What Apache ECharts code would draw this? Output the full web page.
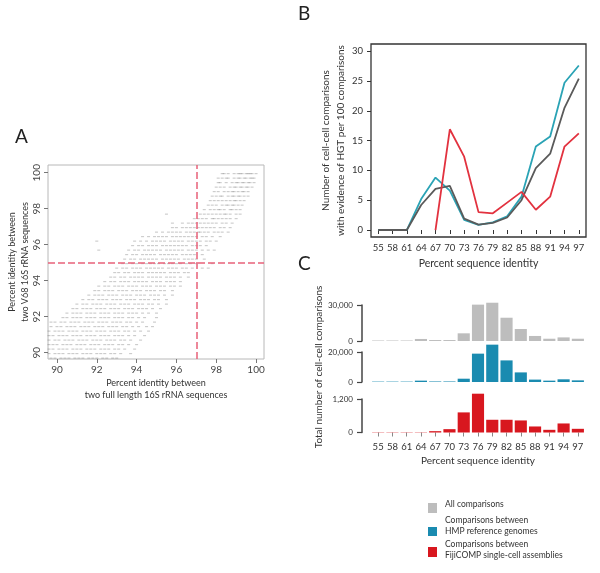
<!DOCTYPE html>
<html><head><meta charset="utf-8">
<script src="https://cdn.jsdelivr.net/npm/echarts@6/dist/echarts.min.js"></script>
<style>html,body{margin:0;padding:0;background:#fff}#c{width:600px;height:573px}</style>
</head><body><div id="c"></div>
<script>
// ---------- Panel A data: rows of [y, [x values]] ----------
const scatterRows = [
 [99.95,[98.3,98.4,98.6,98.9,99.1,99.2,99.3,99.5,99.6,99.7,99.8,100.0]],
 [99.7,[98.1,98.3,98.5,98.6,98.9,99.1,99.2,99.4,99.5,99.7,99.8,99.9]],
 [99.45,[98.1,98.2,98.5,98.8,99.0,99.1,99.3,99.4,99.6,99.7,99.9]],
 [99.2,[98.0,98.2,98.4,98.7,98.9,99.0,99.2,99.3,99.5,99.6,99.8]],
 [98.95,[97.9,98.1,98.4,98.6,98.8,98.9,99.1,99.3,99.4,99.6]],
 [98.7,[97.8,98.0,98.2,98.3,98.6,98.8,98.9,99.1,99.2,99.4,99.6]],
 [98.45,[97.7,97.9,98.1,98.3,98.5,98.7,98.9,99.0,99.2,99.4]],
 [98.2,[97.6,97.8,98.0,98.3,98.5,98.6,98.8,98.9,99.1,99.3]],
 [97.95,[97.4,97.7,97.9,98.1,98.2,98.4,98.7,98.8,99.0,99.2]],
 [97.7,[95.5,97.2,97.4,97.6,97.8,98.0,98.2,98.4,98.5,98.7,99.0,99.2]],
 [97.45,[96.9,97.1,97.3,97.5,97.8,97.9,98.1,98.3,98.5,98.7,99.0]],
 [97.2,[95.8,96.3,96.6,96.8,97.0,97.2,97.4,97.6,97.8,98.0,98.3,98.5,98.8]],
 [96.95,[95.8,96.0,96.3,96.5,96.7,96.9,97.1,97.3,97.5,97.7,97.9,98.2,98.4,98.7]],
 [96.7,[95.0,95.3,95.6,95.8,96.0,96.2,96.5,96.7,96.9,97.1,97.2,97.4,97.6,97.9,98.1,98.3,98.6]],
 [96.45,[94.3,94.6,94.9,95.1,95.3,95.5,95.8,96.0,96.2,96.4,96.6,96.8,97.0,97.3,97.5,97.8,98.2]],
 [96.2,[92.0,93.9,94.2,94.5,94.8,95.0,95.2,95.4,95.7,95.9,96.1,96.3,96.6,96.8,97.0,97.2,97.5,97.7,98.0]],
 [95.95,[93.8,94.1,94.3,94.6,94.8,95.0,95.3,95.5,95.7,95.9,96.1,96.3,96.5,96.8,97.0,97.2,97.5]],
 [95.7,[92.1,93.6,93.9,94.1,94.4,94.6,94.8,95.0,95.2,95.5,95.7,95.9,96.1,96.3,96.6,96.8,97.0,97.3,97.6,97.9]],
 [95.45,[93.5,93.8,94.0,94.3,94.5,94.7,94.9,95.2,95.4,95.6,95.8,96.0,96.3,96.5,96.7,96.9,97.3]],
 [95.2,[93.4,93.7,93.9,94.2,94.4,94.6,94.8,95.0,95.3,95.5,95.7,95.9,96.1,96.4,96.6,96.8,97.0,97.4]],
 [94.95,[93.3,93.5,93.8,94.0,94.3,94.5,94.7,94.9,95.1,95.4,95.6,95.8,96.0,96.2,96.5,96.7,97.0,97.8]],
 [94.7,[93.0,93.3,93.5,93.8,94.0,94.2,94.5,94.7,94.9,95.1,95.3,95.6,95.8,96.0,96.3,96.5,96.8,97.3,97.6]],
 [94.45,[92.9,93.1,93.4,93.6,93.9,94.1,94.3,94.6,94.8,95.0,95.2,95.4,95.7,95.9,96.1,96.4,96.6]],
 [94.2,[92.7,92.9,93.2,93.4,93.7,93.9,94.1,94.3,94.6,94.8,95.0,95.2,95.5,95.7,95.9,96.2,96.6]],
 [93.95,[92.4,92.7,92.9,93.2,93.4,93.6,93.9,94.1,94.3,94.5,94.8,95.0,95.2,95.5,95.7,95.9,96.2]],
 [93.7,[92.1,92.4,92.6,92.9,93.1,93.3,93.6,93.8,94.0,94.3,94.5,94.7,95.0,95.2,95.4,95.7,95.9,96.2]],
 [93.45,[91.9,92.1,92.4,92.6,92.8,93.1,93.3,93.5,93.8,94.0,94.2,94.5,94.7,94.9,95.2,95.4,95.8]],
 [93.2,[91.6,91.9,92.1,92.3,92.6,92.8,93.0,93.3,93.5,93.7,94.0,94.2,94.4,94.7,94.9,95.1,95.4,95.8]],
 [92.95,[91.3,91.6,91.8,92.1,92.3,92.5,92.8,93.0,93.2,93.5,93.7,93.9,94.2,94.4,94.6,94.9,95.1,95.5]],
 [92.7,[91.0,91.3,91.5,91.8,92.0,92.2,92.5,92.7,92.9,93.2,93.4,93.6,93.9,94.1,94.3,94.6,94.8,95.1,95.5]],
 [92.45,[90.8,91.0,91.3,91.5,91.7,92.0,92.2,92.4,92.7,92.9,93.1,93.4,93.6,93.8,94.1,94.3,94.5,94.8,95.2]],
 [92.2,[90.5,90.8,91.0,91.2,91.5,91.7,91.9,92.2,92.4,92.6,92.9,93.1,93.3,93.6,93.8,94.0,94.3,94.6,95.0]],
 [91.95,[90.3,90.5,90.8,91.0,91.2,91.5,91.7,91.9,92.2,92.4,92.6,92.9,93.1,93.3,93.6,93.8,94.1,94.4,95.0]],
 [91.7,[89.7,89.9,90.2,90.4,90.7,90.9,91.1,91.4,91.6,91.8,92.1,92.3,92.5,92.8,93.0,93.2,93.5,93.7,94.0,94.3,94.9]],
 [91.45,[89.7,90.0,90.2,90.5,90.7,90.9,91.2,91.4,91.6,91.9,92.1,92.3,92.6,92.8,93.0,93.3,93.5,93.8,94.1,94.5,94.8]],
 [91.2,[89.6,89.9,90.1,90.3,90.6,90.8,91.0,91.3,91.5,91.7,92.0,92.2,92.4,92.7,92.9,93.1,93.4,93.6,93.9,94.2,94.6]],
 [90.95,[89.6,89.8,90.1,90.3,90.5,90.8,91.0,91.2,91.5,91.7,91.9,92.2,92.4,92.6,92.9,93.1,93.3,93.6,93.9,94.4]],
 [90.7,[89.6,89.9,90.1,90.4,90.6,90.8,91.1,91.3,91.5,91.8,92.0,92.2,92.5,92.7,92.9,93.2,93.4,93.7,94.2]],
 [90.45,[89.6,89.8,90.0,90.3,90.5,90.7,91.0,91.2,91.4,91.7,91.9,92.1,92.4,92.6,92.8,93.1,93.3,93.6,94.0]],
 [90.2,[89.6,89.8,90.1,90.3,90.5,90.8,91.0,91.2,91.5,91.7,91.9,92.2,92.4,92.6,92.9,93.1,93.4,93.9]],
 [89.95,[89.6,89.9,90.1,90.3,90.6,90.8,91.0,91.3,91.5,91.7,92.0,92.2,92.4,92.7,92.9,93.2,93.7]],
 [89.7,[89.7,89.9,90.2,90.4,90.6,90.9,91.1,91.3,91.6,91.8,92.0,92.3,92.5,92.8,93.0]]
];
const cutFullLength = 97;
const cutV68 = 95;
const ticksA = [90, 92, 94, 96, 98, 100];

// ---------- Panel B / C data ----------
const categories = ['55','58','61','64','67','70','73','76','79','82','85','88','91','94','97'];
const hgtAll  = [0,0,0,4.2,6.9,7.4,1.9,0.9,1.2,2.1,5.0,10.4,12.8,20.5,25.4];
const hgtHMP  = [0,0,0,5.2,8.8,6.6,1.7,0.85,1.3,2.3,5.6,14.0,15.7,24.7,27.6];
const hgtFiji = [null,null,null,null,0,16.9,12.3,3.0,2.8,4.6,6.4,3.4,5.6,14.0,16.2];
const ticksB = [0, 5, 10, 15, 20, 25, 30];

const totalAll  = [400,400,400,1700,800,800,6400,30300,31900,19400,10000,4200,1900,3000,1900];
const totalHMP  = [250,250,250,900,350,350,2200,18900,24900,14400,6400,1600,900,1800,1100];
const totalFiji = [10,10,10,10,48,120,720,1390,456,456,432,216,96,324,132];
const maxAll = 30000, maxHMP = 20000, maxFiji = 1200;

const legendLabels = ['All comparisons', 'Comparisons between\nHMP reference genomes', 'Comparisons between\nFijiCOMP single-cell assemblies'];

// ---------- styling ----------
const FONT = 'Lato, "Liberation Sans", sans-serif';
const TXT = '#333';
const cGray = '#bdbdbd', cTeal = '#1a8bb0', cRed = '#d8171f';
const lGray = '#5a5a5a', lCyan = '#2aa3b5', lRed = '#e2323f';
const fmtComma = v => String(v).replace(/\B(?=(\d{3})+(?!\d))/g, ',');

const scatterData = scatterRows.flatMap(([y, xs]) => xs.map(x => [x, y]));

const chart = echarts.init(document.getElementById('c'), null, {renderer: 'canvas'});

const barX = (gi, showLabels) => ({
  type: 'category', gridIndex: gi, data: categories, boundaryGap: true,
  axisLine: {show: false},
  axisTick: {show: showLabels, alignWithLabel: true, length: 4, lineStyle: {color: '#888'}},
  axisLabel: {show: showLabels, interval: 0, hideOverlap: false, fontSize: 9.5, color: TXT, margin: 6, fontFamily: FONT},
  offset: showLabels ? 3 : 0,
  name: showLabels ? 'Percent sequence identity' : '',
  nameLocation: 'middle', nameGap: 20,
  nameTextStyle: {fontSize: 10, color: TXT, fontFamily: FONT}
});
const barY = (gi, max, extra) => Object.assign({
  type: 'value', gridIndex: gi, min: 0, max: max, interval: max, offset: 9,
  axisLine: {show: true, lineStyle: {color: '#444', width: 1.5}},
  axisTick: {show: true, length: 5, lineStyle: {color: '#444', width: 1.2}},
  axisLabel: {fontSize: 8, color: TXT, margin: 9, fontFamily: FONT, formatter: fmtComma},
  splitLine: {show: false}
}, extra || {});

chart.setOption({
  animation: false,
  textStyle: {fontFamily: FONT},
  grid: [
    {left: 48, top: 165, width: 216, height: 194, show: true, borderColor: '#b8b8b8', borderWidth: 1, backgroundColor: 'transparent'},
    {left: 371, top: 44, width: 215, height: 193, show: true, borderColor: '#333', borderWidth: 1.3, backgroundColor: 'transparent'},
    {left: 371, top: 305, width: 214, height: 36},
    {left: 371, top: 352, width: 214, height: 30},
    {left: 371, top: 399, width: 214, height: 33.5}
  ],
  xAxis: [
    {type: 'value', gridIndex: 0, min: 89.55, max: 100.4,
     axisLine: {show: false}, splitLine: {show: false},
     axisTick: {show: true, customValues: ticksA, length: 4, lineStyle: {color: '#777'}},
     axisLabel: {customValues: ticksA, fontSize: 10, color: '#444', margin: 6, fontFamily: FONT},
     name: 'Percent identity between\ntwo full length 16S rRNA sequences',
     nameLocation: 'middle', nameGap: 18,
     nameTextStyle: {fontSize: 9, lineHeight: 12, color: TXT, fontFamily: FONT, verticalAlign: 'top'}},
    {type: 'category', gridIndex: 1, data: categories, boundaryGap: true,
     axisLine: {show: false},
     axisTick: {show: true, alignWithLabel: true, length: 4, lineStyle: {color: '#333'}},
     axisLabel: {interval: 0, hideOverlap: false, fontSize: 9.5, color: TXT, margin: 6, fontFamily: FONT},
     name: 'Percent sequence identity', nameLocation: 'middle', nameGap: 21,
     nameTextStyle: {fontSize: 10.5, color: TXT, fontFamily: FONT}},
    barX(2, false), barX(3, false), barX(4, true)
  ],
  yAxis: [
    {type: 'value', gridIndex: 0, min: 89.65, max: 100.43,
     axisLine: {show: false}, splitLine: {show: false},
     axisTick: {show: true, customValues: ticksA, length: 4, lineStyle: {color: '#777'}},
     axisLabel: {customValues: ticksA, fontSize: 10, color: '#444', margin: 6, rotate: 90, fontFamily: FONT},
     name: 'Percent identity between\ntwo V68 16S rRNA sequences',
     nameLocation: 'middle', nameGap: 16, nameRotate: 90,
     nameTextStyle: {fontSize: 9, lineHeight: 13, color: TXT, fontFamily: FONT}},
    {type: 'value', gridIndex: 1, min: -1.17, max: 31.2,
     axisLine: {show: false}, splitLine: {show: false},
     axisTick: {show: true, customValues: ticksB, length: 4, lineStyle: {color: '#333'}},
     axisLabel: {customValues: ticksB, fontSize: 9.5, color: TXT, margin: 8, fontFamily: FONT},
     name: 'Number of cell-cell comparisons\nwith evidence of HGT per 100 comparisons',
     nameLocation: 'middle', nameGap: 19, nameRotate: 90,
     nameTextStyle: {fontSize: 10, lineHeight: 15, color: TXT, fontFamily: FONT}},
    barY(2, maxAll),
    barY(3, maxHMP, {name: 'Total number of cell-cell comparisons', nameLocation: 'middle', nameRotate: 90, nameGap: 38,
      nameTextStyle: {fontSize: 10, color: TXT, fontFamily: FONT}}),
    barY(4, maxFiji)
  ],
  series: [
    {type: 'scatter', xAxisIndex: 0, yAxisIndex: 0, data: scatterData,
     symbol: 'rect', symbolSize: [3, 1.1], itemStyle: {color: 'rgba(80,80,80,0.38)'}, silent: true,
     markLine: {silent: true, symbol: ['none', 'none'], label: {show: false},
       lineStyle: {color: '#e8627a', type: [7, 3], width: 1.5},
       data: [{xAxis: cutFullLength}, {yAxis: cutV68}]}},
    {type: 'line', xAxisIndex: 1, yAxisIndex: 1, data: hgtHMP, symbol: 'none', lineStyle: {color: lCyan, width: 1.8}},
    {type: 'line', xAxisIndex: 1, yAxisIndex: 1, data: hgtAll, symbol: 'none', lineStyle: {color: lGray, width: 1.8}},
    {type: 'line', xAxisIndex: 1, yAxisIndex: 1, data: hgtFiji, symbol: 'none', lineStyle: {color: lRed, width: 1.8}},
    {type: 'bar', xAxisIndex: 2, yAxisIndex: 2, data: totalAll, barWidth: '85%', clip: false, itemStyle: {color: cGray}},
    {type: 'bar', xAxisIndex: 3, yAxisIndex: 3, data: totalHMP, barWidth: '85%', clip: false, itemStyle: {color: cTeal}},
    {type: 'bar', xAxisIndex: 4, yAxisIndex: 4, data: totalFiji, barWidth: '85%', clip: false, itemStyle: {color: cRed}}
  ],
  graphic: [
    {type: 'text', left: 15, top: 127, style: {text: 'A', fontSize: 19, fill: '#222', fontFamily: FONT}},
    {type: 'text', left: 298, top: 4, style: {text: 'B', fontSize: 19, fill: '#222', fontFamily: FONT}},
    {type: 'text', left: 298, top: 254, style: {text: 'C', fontSize: 19, fill: '#222', fontFamily: FONT}},
    {type: 'rect', shape: {x: 428, y: 503, width: 9, height: 10}, style: {fill: cGray}},
    {type: 'text', x: 445, y: 504, style: {text: legendLabels[0], fontSize: 8.5, fill: TXT, fontFamily: FONT, verticalAlign: 'middle'}},
    {type: 'rect', shape: {x: 428, y: 527, width: 9, height: 9}, style: {fill: cTeal}},
    {type: 'text', x: 445, y: 526, style: {text: legendLabels[1], fontSize: 8.5, lineHeight: 11, fill: TXT, fontFamily: FONT, verticalAlign: 'middle'}},
    {type: 'rect', shape: {x: 428, y: 547, width: 9, height: 10}, style: {fill: cRed}},
    {type: 'text', x: 445, y: 550, style: {text: legendLabels[2], fontSize: 8.5, lineHeight: 11, fill: TXT, fontFamily: FONT, verticalAlign: 'middle'}}
  ]
});
</script></body></html>
